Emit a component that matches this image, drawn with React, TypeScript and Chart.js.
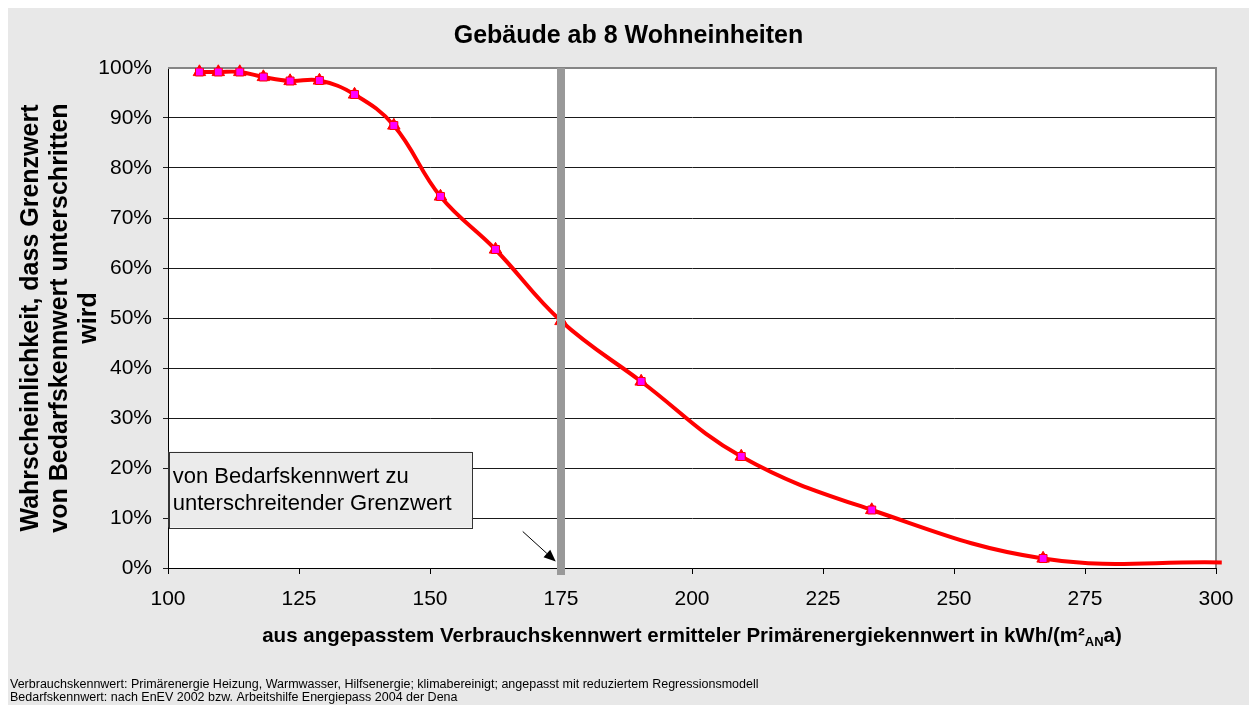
import React, { useEffect, useRef } from "react";
import { Chart, registerables } from "chart.js";

Chart.register(...registerables);

// ---------- data ----------
const TITLE = "Gebäude ab 8 Wohneinheiten";
const Y_TITLE_LINES = [
  "Wahrscheinlichkeit, dass Grenzwert",
  "von Bedarfskennwert unterschritten",
  "wird",
];
const X_TITLE_MAIN = "aus angepasstem Verbrauchskennwert ermitteler Primärenergiekennwert in kWh/(m²";
const X_TITLE_SUB = "AN";
const X_TITLE_END = "a)";
const FOOTNOTES = [
  "Verbrauchskennwert: Primärenergie Heizung, Warmwasser, Hilfsenergie; klimabereinigt; angepasst mit reduziertem Regressionsmodell",
  "Bedarfskennwert: nach EnEV 2002 bzw. Arbeitshilfe Energiepass 2004 der Dena",
];
const NOTE_LINES = ["von Bedarfskennwert zu", "unterschreitender Grenzwert"];

// smoothed curve (with triangle markers)
const curveX = [106.0, 109.6, 113.7, 118.2, 123.3, 128.9, 135.6, 143.1, 152.0, 162.5, 175.0, 190.3, 209.4, 234.3, 267.0, 301.1];
const curveY = [99.2, 99.2, 99.2, 98.2, 97.4, 97.5, 94.7, 88.5, 74.3, 63.7, 49.4, 37.3, 22.3, 11.6, 1.9, 1.1];
const curveMarker = [true, true, true, true, true, true, true, true, true, true, true, true, true, true, true, false];

// square markers
const squareX = [106.0, 109.6, 113.7, 118.2, 123.3, 128.9, 135.6, 143.1, 152.0, 162.5, 190.3, 209.4, 234.3, 267.0];
const squareY = [99.2, 99.2, 99.2, 98.2, 97.4, 97.5, 94.7, 88.5, 74.3, 63.7, 37.3, 22.3, 11.6, 1.9];

const THRESHOLD = 175;
const X_MIN = 100;
const X_MAX = 300;
const X_STEP = 25;
const Y_MIN = 0;
const Y_MAX = 100;
const Y_STEP = 10;

// annotation placement (data coordinates)
const NOTE_BOX = { x0: 100.15, x1: 158.0, yTop: 23.3, yBottom: 8.1 };
const ARROW = { x0: 167.7, y0: 7.3, x1: 174.0, y1: 1.3 };

// ---------- styles ----------
const FONT = "'Liberation Sans', Arial, Helvetica, sans-serif";
const BG = "#e8e8e8";

const decorPlugin = {
  id: "decor",
  beforeDraw(chart: any) {
    const { ctx, chartArea: a, width, height } = chart;
    ctx.save();
    ctx.fillStyle = BG;
    ctx.fillRect(0, 0, width, height);
    ctx.fillStyle = "#ffffff";
    ctx.fillRect(a.left, a.top, a.right - a.left, a.bottom - a.top);
    ctx.restore();
  },
  beforeDatasetsDraw(chart: any) {
    const { ctx, chartArea: a } = chart;
    ctx.save();
    ctx.strokeStyle = "#858585";
    ctx.lineWidth = 2;
    ctx.beginPath();
    ctx.moveTo(a.left, a.top);
    ctx.lineTo(a.right, a.top);
    ctx.lineTo(a.right, a.bottom);
    ctx.stroke();
    ctx.restore();
  },
  afterDatasetsDraw(chart: any) {
    const { ctx, chartArea: a, scales } = chart;
    const xs = scales.x;
    const ys = scales.y;
    ctx.save();
    // threshold bar
    const tx = xs.getPixelForValue(THRESHOLD);
    ctx.fillStyle = "#999999";
    ctx.fillRect(tx - 4, a.top, 8, a.bottom - a.top + 7);

    // note box
    const bx0 = xs.getPixelForValue(NOTE_BOX.x0);
    const bx1 = xs.getPixelForValue(NOTE_BOX.x1);
    const by0 = ys.getPixelForValue(NOTE_BOX.yTop);
    const by1 = ys.getPixelForValue(NOTE_BOX.yBottom);
    ctx.fillStyle = "#ebebeb";
    ctx.fillRect(bx0, by0, bx1 - bx0, by1 - by0);
    ctx.strokeStyle = "#333333";
    ctx.lineWidth = 1;
    ctx.strokeRect(Math.round(bx0) + 0.5, Math.round(by0) + 0.5, Math.round(bx1 - bx0), Math.round(by1 - by0));
    ctx.fillStyle = "#000000";
    ctx.font = `22px ${FONT}`;
    ctx.textAlign = "left";
    ctx.textBaseline = "alphabetic";
    ctx.fillText(NOTE_LINES[0], bx0 + 4, by0 + 31);
    ctx.fillText(NOTE_LINES[1], bx0 + 4, by0 + 58);

    // arrow
    const ax0 = xs.getPixelForValue(ARROW.x0);
    const ay0 = ys.getPixelForValue(ARROW.y0);
    const ax1 = xs.getPixelForValue(ARROW.x1);
    const ay1 = ys.getPixelForValue(ARROW.y1);
    const ang = Math.atan2(ay1 - ay0, ax1 - ax0);
    const hl = 12;
    const hw = 5;
    const bxh = ax1 - hl * Math.cos(ang);
    const byh = ay1 - hl * Math.sin(ang);
    ctx.strokeStyle = "#000000";
    ctx.lineWidth = 1;
    ctx.beginPath();
    ctx.moveTo(ax0, ay0);
    ctx.lineTo(bxh, byh);
    ctx.stroke();
    ctx.fillStyle = "#000000";
    ctx.beginPath();
    ctx.moveTo(ax1, ay1);
    ctx.lineTo(bxh + hw * Math.sin(ang), byh - hw * Math.cos(ang));
    ctx.lineTo(bxh - hw * Math.sin(ang), byh + hw * Math.cos(ang));
    ctx.closePath();
    ctx.fill();
    ctx.restore();
  },
  afterDraw(chart: any) {
    const { ctx, chartArea: a, width } = chart;
    ctx.save();
    ctx.fillStyle = "#000000";
    // title
    ctx.font = `bold 25px ${FONT}`;
    ctx.textAlign = "center";
    ctx.textBaseline = "alphabetic";
    ctx.fillText(TITLE, width / 2, 35);

    // y title
    const cy = (a.top + a.bottom) / 2;
    ctx.save();
    ctx.translate(52, cy);
    ctx.rotate(-Math.PI / 2);
    ctx.font = `bold 25px ${FONT}`;
    ctx.textAlign = "center";
    ctx.textBaseline = "middle";
    const lh = 29;
    Y_TITLE_LINES.forEach((t, i) => {
      ctx.fillText(t, 0, (i - 1) * lh);
    });
    ctx.restore();

    // x title with subscript
    const mainFont = `bold 20.5px ${FONT}`;
    const subFont = `bold 13px ${FONT}`;
    ctx.font = mainFont;
    const w1 = ctx.measureText(X_TITLE_MAIN).width;
    const w3 = ctx.measureText(X_TITLE_END).width;
    ctx.font = subFont;
    const w2 = ctx.measureText(X_TITLE_SUB).width;
    const total = w1 + w2 + w3;
    const cx = (a.left + a.right) / 2;
    let x = cx - total / 2;
    const base = 634;
    ctx.textAlign = "left";
    ctx.font = mainFont;
    ctx.fillText(X_TITLE_MAIN, x, base);
    x += w1;
    ctx.font = subFont;
    ctx.fillText(X_TITLE_SUB, x, base + 4);
    x += w2;
    ctx.font = mainFont;
    ctx.fillText(X_TITLE_END, x, base);

    // footnotes
    ctx.font = `12.5px ${FONT}`;
    ctx.fillText(FOOTNOTES[0], 2, 680);
    ctx.fillText(FOOTNOTES[1], 2, 693);
    ctx.restore();
  },
};

export default function App() {
  const ref = useRef<HTMLCanvasElement | null>(null);
  useEffect(() => {
    if (!ref.current) return;
    const chart = new Chart(ref.current, {
      type: "scatter",
      data: {
        datasets: [
          {
            label: "squares",
            data: squareX.map((x, i) => ({ x, y: squareY[i] })),
            showLine: false,
            pointStyle: "rect",
            pointRadius: 5.6,
            pointBackgroundColor: "#ff00ff",
            pointBorderColor: "#ff0000",
            pointBorderWidth: 1,
            pointHoverRadius: 5.6,
          },
          {
            label: "curve",
            data: curveX.map((x, i) => ({ x, y: curveY[i] })),
            showLine: true,
            borderColor: "#ff0000",
            borderWidth: 4,
            tension: 0.4,
            pointStyle: "triangle",
            pointRadius: curveMarker.map((m) => (m ? 7.2 : 0)),
            pointBackgroundColor: "#ff0000",
            pointBorderColor: "#ff0000",
            pointBorderWidth: 1,
            clip: false as any,
          },
        ],
      },
      options: {
        animation: false,
        responsive: false,
        devicePixelRatio: 1,
        events: [],
        layout: { padding: { top: 60, right: 33, left: 0, bottom: 0 } },
        plugins: {
          legend: { display: false },
          title: { display: false },
          tooltip: { enabled: false },
        },
        scales: {
          x: {
            type: "linear",
            min: X_MIN,
            max: X_MAX,
            afterFit: (s: any) => {
              s.height = 137;
            },
            ticks: {
              stepSize: X_STEP,
              autoSkip: false,
              maxRotation: 0,
              color: "#000000",
              padding: 13,
              font: { family: FONT, size: 21 },
            },
            grid: {
              drawOnChartArea: false,
              drawTicks: true,
              tickLength: 6,
              color: "#000000",
            },
            border: { color: "#000000", width: 1 },
          },
          y: {
            type: "linear",
            min: Y_MIN,
            max: Y_MAX,
            afterFit: (s: any) => {
              s.width = 160;
            },
            ticks: {
              stepSize: Y_STEP,
              color: "#000000",
              padding: 11,
              font: { family: FONT, size: 21 },
              callback: (v: any) => `${v}%`,
            },
            grid: {
              drawTicks: true,
              tickLength: 5,
              color: (c: any) => (c.tick && c.tick.value === Y_MAX ? "rgba(0,0,0,0)" : "#1a1a1a"),
            },
            border: { color: "#000000", width: 1 },
          },
        },
      },
      plugins: [decorPlugin],
    });
    return () => chart.destroy();
  }, []);
  return (
    <div style={{ position: "absolute", left: 8, top: 8, width: 1241, height: 697 }}>
      <canvas ref={ref} width={1241} height={697} style={{ display: "block", width: 1241, height: 697 }} />
    </div>
  );
}
